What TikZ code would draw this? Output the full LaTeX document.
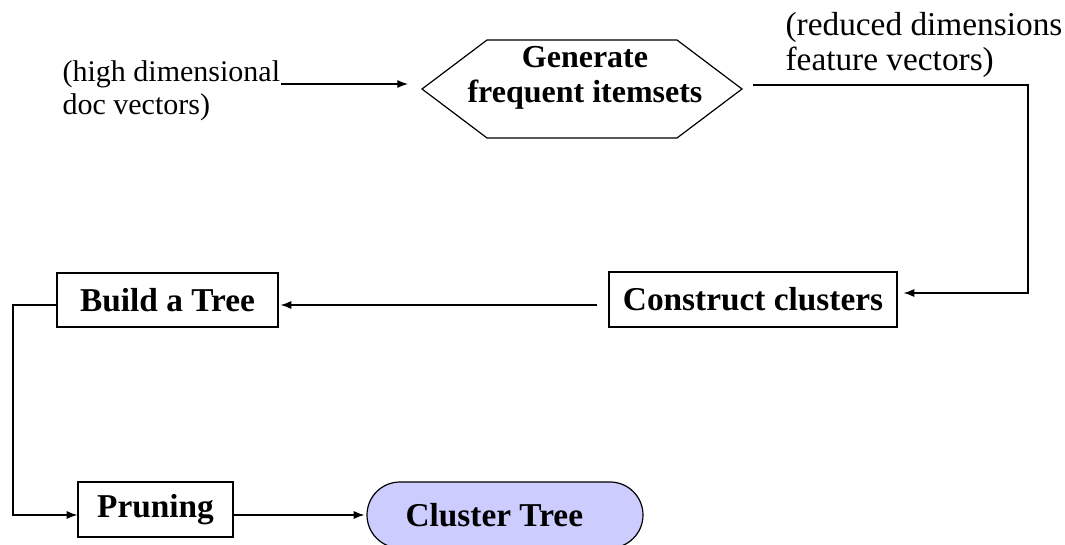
\documentclass[tikz,border=0pt]{standalone}
\usepackage{fontspec}
\setmainfont{Liberation Serif}
\usetikzlibrary{shapes.symbols,shapes.misc,arrows.meta,calc}
\definecolor{treefill}{RGB}{204,204,255}

\begin{document}
\begin{tikzpicture}[x=0.75pt,y=-0.75pt,line width=0.9pt,>={Latex[length=8pt,width=6pt]}]
            \tikzstyle{every node}=[font=\fontsize{22.5}{25}\selectfont,inner sep=0pt]
            \tikzstyle{step box}=[draw,font=\fontsize{25}{26.5}\selectfont\bfseries]
            \useasboundingbox (0,0) rectangle (1065,545);
            % inputs and outputs
            \node[align=left,anchor=west] (docvec) at (62,91) {(high dimensional\\doc vectors)};
            \node[align=left,anchor=west,font=\fontsize{25}{26}\selectfont] (featvec) at (785,45) {(reduced dimensions\\feature vectors)};
            % steps
            \node[step box,signal,signal to=west and east,signal pointer angle=74,
                  minimum width=240pt,minimum height=73.5pt] (gen) at (582,89) {};
            \node[font=\fontsize{24}{26.5}\selectfont\bfseries,align=center] (gentext) at (585,78) {Generate\\frequent itemsets};
            \node[step box,minimum width=216pt,minimum height=41.25pt] (cons) at (753,299.5) {Construct clusters};
            \node[step box,minimum width=165.75pt,minimum height=40.5pt] (build) at (167.5,300) {Build a Tree};
            \node[step box,minimum width=116.25pt,minimum height=41.25pt] (prune) at (155.5,509.5) {Pruning};
            \node[step box,rounded rectangle,fill=treefill,minimum width=207pt,minimum height=49.5pt]
                  (tree) at (505,515) {Cluster Tree\hspace*{16pt}};
            \coordinate (genin) at (408,84);
            \coordinate (genout) at (753,85);
            \coordinate (rightrail) at (1028,85);
            \coordinate (leftrail) at (13,515);

            \draw[->] (docvec.east |- genin) -- (genin);
            \draw[->] (genout) -- (rightrail) |- ($(cons.east)+(6,-6.5)$);
            \draw[->] ($(cons.west)+(-11,5.5)$) -- ($(build.east)+(2,5)$);
            \draw[->] ($(build.west)+(0,5)$) -| (leftrail) -- ($(prune.west)+(0,5.5)$);
            \draw[->] ($(prune.east)+(0,5.5)$) -- ($(tree.west)+(-2,0)$);
          \end{tikzpicture}
\end{document}
